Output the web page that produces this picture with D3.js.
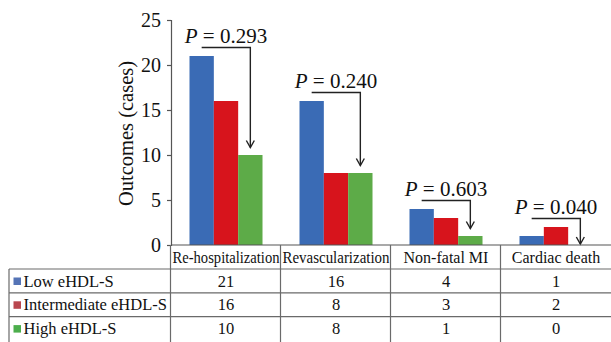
<!DOCTYPE html>
<html>
<head>
<meta charset="utf-8">
<script src="https://cdn.jsdelivr.net/npm/d3@7"></script>
<style>
  body { margin: 0; background: #fff; }
  svg { display: block; }
</style>
</head>
<body>
<div id="chart"></div>
<script>
// chart values
var categories = ['Re-hospitalization', 'Revascularization', 'Non-fatal MI', 'Cardiac death'];
var seriesNames = ['Low eHDL-S', 'Intermediate eHDL-S', 'High eHDL-S'];
var lowValues = [21, 16, 4, 1];
var intermediateValues = [16, 8, 3, 2];
var highValues = [10, 8, 1, 0];
var pLabels = ['0.293', '0.240', '0.603', '0.040'];
var yTicks = [0, 5, 10, 15, 20, 25];

var barColours = ['#3a6bb5', '#d7141c', '#5dab48'];
var swatchColours = ['#5574b6', '#b9474f', '#4cae4c'];
var font = '"Liberation Serif", "Times New Roman", serif';

var width = 611, height = 342;
var plotLeft = 171, plotRight = 611, plotTop = 20, plotBottom = 245;
var rowH = 23.8, tableTop = 269;

var series = [lowValues, intermediateValues, highValues];

var svg = d3.select('#chart').append('svg')
  .attr('width', width)
  .attr('height', height);

// scales
var x = d3.scaleBand()
  .domain(categories)
  .range([plotLeft, plotRight]);

var xs = d3.scaleBand()
  .domain(seriesNames)
  .range([0, x.bandwidth()])
  .paddingInner(0)
  .paddingOuter(0.76);

var y = d3.scaleLinear()
  .domain([0, 25])
  .range([plotBottom, plotTop]);

// y axis
var yAxis = svg.append('g')
  .attr('transform', 'translate(' + plotLeft + ',0)')
  .call(d3.axisLeft(y).tickValues(yTicks).tickSizeOuter(0).tickSize(4).tickPadding(6));
yAxis.select('.domain').attr('stroke', '#555').attr('stroke-width', 1.2);
yAxis.selectAll('.tick line').attr('stroke', '#555').attr('stroke-width', 1.2);
yAxis.selectAll('.tick text')
  .style('font-family', font)
  .style('font-size', '20px')
  .attr('fill', '#111');

svg.append('text')
  .attr('transform', 'translate(133,' + ((plotTop + plotBottom) / 2 + 1) + ') rotate(-90)')
  .attr('text-anchor', 'middle')
  .style('font-family', font)
  .style('font-size', '20.5px')
  .attr('fill', '#111')
  .text('Outcomes (cases)');

// bars
var groups = svg.selectAll('.cat')
  .data(categories)
  .enter()
  .append('g')
  .attr('class', 'cat')
  .attr('transform', function(d) { return 'translate(' + x(d) + ',0)'; });

groups.selectAll('rect')
  .data(function(d, i) {
    return seriesNames.map(function(s, j) { return { s: s, j: j, v: series[j][i] }; });
  })
  .enter()
  .append('rect')
  .attr('x', function(d) { return xs(d.s); })
  .attr('width', xs.bandwidth())
  .attr('y', function(d) { return y(d.v); })
  .attr('height', function(d) { return y(0) - y(d.v); })
  .attr('fill', function(d) { return barColours[d.j]; });

// P value annotations with arrows
var ink = '#222';
categories.forEach(function(c, i) {
  var bx = x(c) + xs(seriesNames[0]) + xs.bandwidth() / 2;
  var gx = x(c) + xs(seriesNames[2]) + xs.bandwidth() / 2;
  var top = d3.max([lowValues[i], intermediateValues[i], highValues[i]]);
  var ly = y(top) - 8.5;
  var tip = y(highValues[i]) - (highValues[i] > 0 ? 7.5 : 1);

  svg.append('path')
    .attr('d', 'M' + bx + ',' + ly + 'H' + gx + 'V' + tip)
    .attr('fill', 'none')
    .attr('stroke', ink)
    .attr('stroke-width', 1.4);
  svg.append('path')
    .attr('d', 'M' + (gx - 4) + ',' + (tip - 7) + 'L' + gx + ',' + tip + 'L' + (gx + 4) + ',' + (tip - 7))
    .attr('fill', 'none')
    .attr('stroke', ink)
    .attr('stroke-width', 1.4);

  var t = svg.append('text')
    .attr('x', x(c) + x.bandwidth() / 2)
    .attr('y', ly - 5)
    .attr('text-anchor', 'middle')
    .style('font-family', font)
    .style('font-size', '21px')
    .attr('fill', '#111');
  t.append('tspan').style('font-style', 'italic').text('P');
  t.append('tspan').text(' = ' + pLabels[i]);
});

// data table
var grid = '#6a6a6a';
svg.append('line')
  .attr('x1', plotLeft).attr('x2', plotRight)
  .attr('y1', plotBottom).attr('y2', plotBottom)
  .attr('stroke', '#555').attr('stroke-width', 1.2);

[0, 1, 2].forEach(function(r) {
  svg.append('line')
    .attr('x1', 9).attr('x2', plotRight)
    .attr('y1', tableTop + r * rowH).attr('y2', tableTop + r * rowH)
    .attr('stroke', grid).attr('stroke-width', 1.2);
});
svg.append('line')
  .attr('x1', 9).attr('x2', 9)
  .attr('y1', tableTop).attr('y2', height)
  .attr('stroke', grid).attr('stroke-width', 1.2);
categories.forEach(function(c, i) {
  svg.append('line')
    .attr('x1', x(c) - 0.5).attr('x2', x(c) - 0.5)
    .attr('y1', plotBottom).attr('y2', height)
    .attr('stroke', grid).attr('stroke-width', 1.2);
});

// category labels
svg.selectAll('.catlabel')
  .data(categories)
  .enter()
  .append('text')
  .attr('class', 'catlabel')
  .attr('x', function(d) { return x(d) + x.bandwidth() / 2; })
  .attr('y', plotBottom + 17.5)
  .attr('text-anchor', 'middle')
  .style('font-family', font)
  .style('font-size', '16px')
  .attr('fill', '#111')
  .text(function(d) { return d; })
  .each(function() {
    if (this.getComputedTextLength() > x.bandwidth() - 3) {
      d3.select(this)
        .attr('textLength', x.bandwidth() - 3)
        .attr('lengthAdjust', 'spacingAndGlyphs');
    }
  });

// table rows
seriesNames.forEach(function(s, j) {
  var rowY = tableTop + j * rowH;
  svg.append('rect')
    .attr('x', 13.5).attr('y', rowY + 8.5)
    .attr('width', 7.5).attr('height', 7.5)
    .attr('fill', swatchColours[j]);
  svg.append('text')
    .attr('x', 23.5).attr('y', rowY + 17.5)
    .style('font-family', font)
    .style('font-size', '16.5px')
    .attr('fill', '#111')
    .text(s);
  svg.selectAll('.val' + j)
    .data(series[j])
    .enter()
    .append('text')
    .attr('x', function(d, i) { return x(categories[i]) + x.bandwidth() / 2; })
    .attr('y', rowY + 17.5)
    .attr('text-anchor', 'middle')
    .style('font-family', font)
    .style('font-size', '16.5px')
    .attr('fill', '#111')
    .text(function(d) { return d; });
});
</script>
</body>
</html>
